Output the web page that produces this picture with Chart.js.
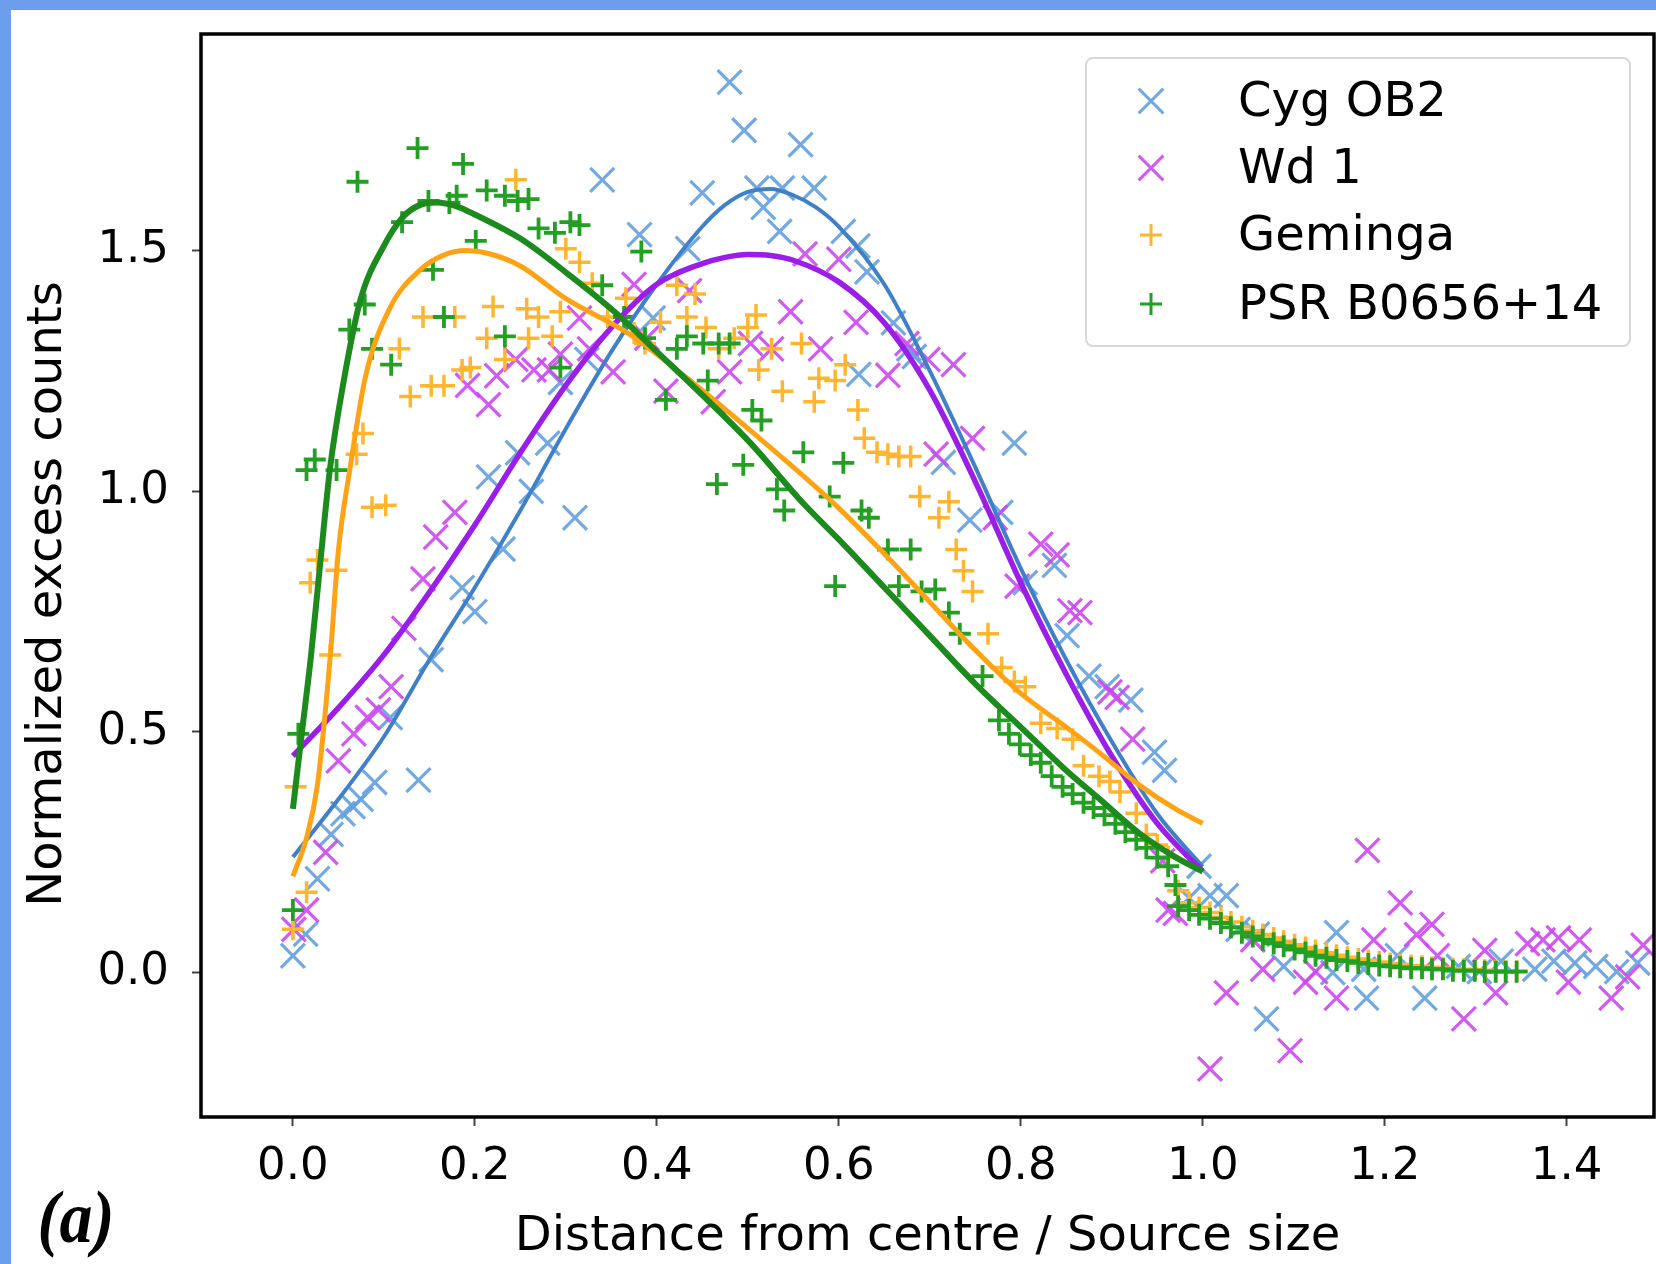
<!DOCTYPE html>
<html lang="en">
<head>
<meta charset="UTF-8">
<script src="https://cdn.jsdelivr.net/npm/chart.js@4.4.0/dist/chart.umd.min.js"></script>
<title>Normalized excess counts</title>
<style>
  html, body { margin: 0; padding: 0; background: #fff; }
  #wrap { position: relative; width: 1656px; height: 1264px; overflow: hidden; background: #fff; }
  #profileChart { position: absolute; left: 0; top: 0; }
  #frameTop { position: absolute; left: 0; top: 0; width: 1656px; height: 10px; background: #6d9eeb; }
  #frameLeft { position: absolute; left: 0; top: 0; width: 11px; height: 1264px; background: #6d9eeb; }
</style>
</head>
<body>
<div id="wrap">
  <canvas id="profileChart" width="1656" height="1264"></canvas>
  <div id="frameTop"></div>
  <div id="frameLeft"></div>
</div>
<script>
// tick labels
var xTicks = [0.0, 0.2, 0.4, 0.6, 0.8, 1.0, 1.2, 1.4];
var yTicks = [0.0, 0.5, 1.0, 1.5];

// Cyg OB2 (x markers)
var cygX = [0.000, 0.014, 0.027, 0.042, 0.055, 0.066, 0.075, 0.090, 0.107, 0.138, 0.152, 0.186, 0.200, 0.215, 0.231, 0.247, 0.262, 0.280, 0.294, 0.310,
  0.323, 0.340, 0.381, 0.396, 0.434, 0.450, 0.480, 0.496, 0.510, 0.517, 0.535, 0.538, 0.558, 0.573, 0.605, 0.621, 0.622, 0.631, 0.660, 0.677,
  0.683, 0.715, 0.744, 0.778, 0.793, 0.805, 0.837, 0.851, 0.875, 0.895, 0.921, 0.947, 0.958, 0.985, 0.996, 1.008, 1.026, 1.039, 1.060, 1.070,
  1.089, 1.143, 1.147, 1.177, 1.180, 1.214, 1.244, 1.281, 1.304, 1.328, 1.365, 1.386, 1.409, 1.432, 1.455, 1.478];
var cygY = [0.035, 0.080, 0.195, 0.287, 0.330, 0.345, 0.360, 0.395, 0.530, 0.400, 0.650, 0.800, 0.750, 1.030, 0.880, 1.080, 1.000, 1.100, 1.226, 0.945,
  1.274, 1.647, 1.533, 1.360, 1.504, 1.620, 1.850, 1.750, 1.630, 1.590, 1.540, 1.630, 1.720, 1.630, 1.540, 1.510, 1.243, 1.456, 1.350, 1.296,
  1.280, 1.060, 0.940, 0.956, 1.100, 0.810, 0.846, 0.700, 0.616, 0.594, 0.566, 0.458, 0.420, 0.155, 0.221, 0.160, 0.160, 0.090, 0.080, -0.096,
  0.013, 0.000, 0.083, 0.007, -0.053, 0.035, -0.053, 0.013, 0.002, 0.024, 0.007, 0.024, 0.020, 0.013, 0.002, 0.020];

// Wd 1 (x markers)
var wd1X = [0.001, 0.015, 0.036, 0.050, 0.067, 0.082, 0.094, 0.108, 0.122, 0.143, 0.157, 0.178, 0.192, 0.215, 0.224, 0.245, 0.265, 0.282, 0.294, 0.315,
  0.326, 0.352, 0.375, 0.389, 0.410, 0.436, 0.462, 0.480, 0.503, 0.526, 0.547, 0.563, 0.580, 0.600, 0.619, 0.654, 0.675, 0.698, 0.726, 0.707,
  0.747, 0.772, 0.796, 0.822, 0.840, 0.854, 0.865, 0.898, 0.906, 0.923, 0.956, 0.962, 0.970, 1.008, 1.026, 1.055, 1.066, 1.096, 1.113, 1.124,
  1.147, 1.181, 1.188, 1.217, 1.235, 1.252, 1.258, 1.287, 1.310, 1.322, 1.357, 1.374, 1.391, 1.414, 1.402, 1.449, 1.467, 1.484];
var wd1Y = [0.090, 0.130, 0.250, 0.440, 0.496, 0.530, 0.546, 0.594, 0.715, 0.818, 0.905, 0.956, 1.220, 1.180, 1.240, 1.274, 1.252, 1.252, 1.285, 1.360,
  1.296, 1.248, 1.430, 1.318, 1.208, 1.417, 1.186, 1.248, 1.307, 1.296, 1.373, 1.493, 1.296, 1.482, 1.351, 1.241, 1.307, 1.274, 1.263, 1.077,
  1.110, 0.945, 0.803, 0.890, 0.868, 0.752, 0.748, 0.583, 0.572, 0.485, 0.232, 0.130, 0.123, -0.200, -0.042, 0.068, 0.007, -0.162, -0.020, 0.002,
  -0.053, 0.254, 0.068, 0.145, 0.079, 0.100, 0.035, -0.096, 0.046, -0.042, 0.060, 0.068, 0.072, 0.068, -0.020, -0.053, -0.009, 0.057];

// Geminga (+ markers)
var gemX = [0.000, 0.003, 0.015, 0.019, 0.027, 0.041, 0.048, 0.070, 0.077, 0.087, 0.102, 0.117, 0.129, 0.143, 0.152, 0.166, 0.186, 0.195, 0.178, 0.213,
  0.220, 0.233, 0.245, 0.257, 0.259, 0.270, 0.285, 0.294, 0.300, 0.315, 0.329, 0.346, 0.366, 0.375, 0.387, 0.404, 0.422, 0.433, 0.442, 0.454,
  0.468, 0.485, 0.500, 0.509, 0.512, 0.526, 0.538, 0.559, 0.573, 0.578, 0.596, 0.607, 0.621, 0.628, 0.642, 0.654, 0.666, 0.679, 0.689, 0.710,
  0.721, 0.729, 0.737, 0.747, 0.764, 0.779, 0.793, 0.805, 0.822, 0.840, 0.857, 0.869, 0.886, 0.898, 0.909, 0.927, 0.938, 0.950,
  0.962, 0.973, 0.985, 0.996, 1.008, 1.020, 1.031, 1.043, 1.055, 1.066, 1.078, 1.089, 1.101, 1.113, 1.124, 1.136, 1.147, 1.159, 1.171, 1.182,
  1.194, 1.206, 1.217, 1.229, 1.241, 1.252, 1.264, 1.275, 1.287, 1.299, 1.310, 1.322, 1.333, 1.345];
var gemY = [0.090, 0.386, 0.167, 0.810, 0.857, 0.660, 0.836, 1.077, 1.120, 0.967, 0.971, 1.296, 1.197, 1.362, 1.219, 1.219, 1.252, 1.257, 1.362, 1.318,
  1.384, 1.274, 1.647, 1.379, 1.318, 1.362, 1.322, 1.373, 1.504, 1.476, 1.432, 1.362, 1.401, 1.329, 1.307, 1.351, 1.428, 1.362, 1.410, 1.340,
  1.296, 1.318, 1.340, 1.366, 1.252, 1.296, 1.208, 1.307, 1.186, 1.235, 1.230, 1.263, 1.169, 1.110, 1.081, 1.077, 1.072, 1.072, 0.989, 0.945,
  0.978, 0.879, 0.835, 0.792, 0.704, 0.634, 0.605, 0.594, 0.518, 0.507, 0.485, 0.430, 0.408, 0.397, 0.375, 0.331, 0.287, 0.265,
  0.240, 0.170, 0.145, 0.135, 0.125, 0.115, 0.105, 0.095, 0.087, 0.079, 0.072, 0.065, 0.058, 0.052, 0.046, 0.041, 0.036, 0.032, 0.028, 0.025,
  0.022, 0.019, 0.017, 0.015, 0.013, 0.011, 0.010, 0.008, 0.007, 0.006, 0.005, 0.004, 0.003, 0.003];

// PSR B0656+14 (+ markers)
var psrX = [0.000, 0.006, 0.015, 0.024, 0.048, 0.062, 0.071, 0.079, 0.087, 0.108, 0.120, 0.137, 0.149, 0.154, 0.166, 0.172, 0.180, 0.187, 0.201, 0.213,
  0.233, 0.247, 0.259, 0.233, 0.270, 0.288, 0.305, 0.315, 0.294, 0.340, 0.383, 0.364, 0.387, 0.410, 0.422, 0.433, 0.451, 0.456, 0.468, 0.480,
  0.466, 0.495, 0.505, 0.515, 0.532, 0.540, 0.561, 0.590, 0.605, 0.596, 0.625, 0.633, 0.654, 0.679, 0.666, 0.691, 0.706, 0.721, 0.733, 0.758,
  0.776, 0.787, 0.799, 0.811, 0.822, 0.834, 0.846, 0.857, 0.869, 0.880, 0.892, 0.904, 0.915, 0.927, 0.938, 0.950, 0.962, 0.970, 0.973, 0.985,
  0.996, 1.008, 1.020, 1.031, 1.043, 1.055, 1.066, 1.078, 1.089, 1.101, 1.113, 1.124, 1.136, 1.147, 1.159, 1.171, 1.182, 1.194, 1.206, 1.217,
  1.229, 1.241, 1.252, 1.264, 1.275, 1.287, 1.299, 1.310, 1.322, 1.333, 1.345];
var psrY = [0.130, 0.496, 1.044, 1.066, 1.044, 1.336, 1.643, 1.388, 1.296, 1.263, 1.559, 1.713, 1.603, 1.460, 1.362, 1.599, 1.614, 1.680, 1.520, 1.625,
  1.614, 1.603, 1.607, 1.322, 1.546, 1.537, 1.559, 1.553, 1.257, 1.428, 1.498, 1.362, 1.318, 1.190, 1.296, 1.322, 1.307, 1.230, 1.307, 1.307,
  1.015, 1.055, 1.169, 1.147, 1.004, 0.960, 1.081, 0.989, 1.059, 0.803, 0.960, 0.945, 0.879, 0.879, 0.803, 0.792, 0.796, 0.748, 0.704, 0.616,
  0.524, 0.496, 0.474, 0.452, 0.436, 0.408, 0.386, 0.371, 0.353, 0.342, 0.327, 0.309, 0.292, 0.276, 0.259, 0.239, 0.221, 0.182, 0.138, 0.130,
  0.120, 0.112, 0.103, 0.094, 0.083, 0.075, 0.068, 0.061, 0.055, 0.048, 0.042, 0.035, 0.031, 0.026, 0.024, 0.020, 0.018, 0.015, 0.013, 0.011,
  0.009, 0.009, 0.007, 0.007, 0.004, 0.004, 0.004, 0.002, 0.002, 0.002, 0.002];

// fitted curves
var cygFitX = [0, 0.05, 0.1, 0.15, 0.2, 0.25, 0.3, 0.35, 0.4, 0.45, 0.475, 0.5, 0.525, 0.55, 0.575, 0.6, 0.65, 0.7, 0.75, 0.8, 0.85, 0.9, 0.95, 1.0];
var cygFitY = [0.24, 0.36, 0.49, 0.65, 0.80, 0.96, 1.13, 1.29, 1.43, 1.55, 1.595, 1.622, 1.628, 1.615, 1.59, 1.55, 1.43, 1.25, 1.05, 0.84, 0.65, 0.48, 0.33, 0.22];
var wd1FitX = [0, 0.05, 0.1, 0.15, 0.2, 0.25, 0.3, 0.35, 0.4, 0.45, 0.475, 0.5, 0.525, 0.55, 0.6, 0.65, 0.7, 0.75, 0.8, 0.85, 0.9, 0.95, 1.0];
var wd1FitY = [0.45, 0.55, 0.66, 0.79, 0.93, 1.08, 1.22, 1.34, 1.43, 1.473, 1.486, 1.492, 1.49, 1.48, 1.435, 1.35, 1.21, 1.02, 0.81, 0.62, 0.45, 0.31, 0.21];
var gemFitX = [0, 0.015, 0.027, 0.041, 0.05, 0.063, 0.08, 0.107, 0.14, 0.165, 0.19, 0.215, 0.25, 0.3, 0.367, 0.43, 0.503, 0.591, 0.65, 0.7, 0.75, 0.8, 0.85, 0.887, 0.93, 0.97, 1.0];
var gemFitY = [0.20, 0.28, 0.39, 0.655, 0.877, 1.05, 1.24, 1.382, 1.46, 1.49, 1.50, 1.494, 1.468, 1.40, 1.33, 1.24, 1.126, 0.981, 0.87, 0.77, 0.67, 0.58, 0.51, 0.456, 0.39, 0.34, 0.31];
var psrFitX = [0, 0.01, 0.02, 0.03, 0.041, 0.055, 0.074, 0.1, 0.121, 0.14, 0.158, 0.18, 0.2, 0.25, 0.3, 0.356, 0.4, 0.45, 0.503, 0.558, 0.6, 0.65, 0.7, 0.75, 0.8, 0.85, 0.887, 0.93, 0.97, 1.0];
var psrFitY = [0.34, 0.50, 0.66, 0.85, 1.05, 1.22, 1.396, 1.51, 1.57, 1.595, 1.60, 1.592, 1.575, 1.525, 1.455, 1.369, 1.29, 1.20, 1.10, 0.981, 0.90, 0.80, 0.70, 0.60, 0.51, 0.42, 0.36, 0.29, 0.24, 0.21];

var names = ['Cyg OB2', 'Wd 1', 'Geminga', 'PSR B0656+14'];
var yTitle = 'Normalized excess counts';

function pts(xs, ys) {
  return xs.map(function (x, i) { return { x: x, y: ys[i] }; });
}

var fontFam = '"DejaVu Sans", Verdana, sans-serif';

function scatterSet(label, xs, ys, style, r, colour, width, order) {
  return {
    label: label, inLegend: true, data: pts(xs, ys), showLine: false,
    pointStyle: style, pointRadius: r, pointHoverRadius: r,
    pointBorderColor: colour, pointBackgroundColor: colour, pointBorderWidth: width,
    borderColor: colour, order: order
  };
}
function fitSet(xs, ys, colour, width, order) {
  return {
    type: 'line', label: '', inLegend: false, data: pts(xs, ys), showLine: true,
    pointRadius: 0, borderColor: colour, borderWidth: width, fill: false,
    cubicInterpolationMode: 'monotone', order: order
  };
}

function drawGlyph(ctx, style, x, y, r) {
  ctx.beginPath();
  if (style === 'crossRot') {
    var d = r * 0.7071;
    ctx.moveTo(x - d, y - d); ctx.lineTo(x + d, y + d);
    ctx.moveTo(x + d, y - d); ctx.lineTo(x - d, y + d);
  } else {
    ctx.moveTo(x - r, y); ctx.lineTo(x + r, y);
    ctx.moveTo(x, y - r); ctx.lineTo(x, y + r);
  }
  ctx.stroke();
}

// black box around the plot, and the y label (placed like matplotlib)
var frameBox = {
  id: 'frameBox',
  afterDraw: function (chart) {
    var a = chart.chartArea, ctx = chart.ctx;
    ctx.save();
    ctx.strokeStyle = '#000';
    ctx.lineWidth = 3.5;
    ctx.strokeRect(a.left, a.top, a.right - a.left, a.bottom - a.top);
    ctx.translate(49, 594);
    ctx.rotate(-Math.PI / 2);
    ctx.fillStyle = '#000';
    ctx.font = '48px ' + fontFam;
    ctx.textAlign = 'center';
    ctx.textBaseline = 'middle';
    ctx.fillText(yTitle, 0, 0);
    ctx.restore();
  }
};

// legend box at upper right
var legendBox = {
  id: 'legendBox',
  afterDraw: function (chart) {
    var ctx = chart.ctx;
    var items = chart.data.datasets.filter(function (d) { return d.inLegend; });
    var rowY = [101, 168, 235, 304];
    ctx.save();
    ctx.beginPath();
    ctx.roundRect(1086, 58, 544, 288, 7);
    ctx.fillStyle = 'rgba(255,255,255,0.85)';
    ctx.fill();
    ctx.strokeStyle = '#d8d8d8';
    ctx.lineWidth = 2;
    ctx.stroke();
    items.forEach(function (d, i) {
      ctx.strokeStyle = d.pointBorderColor;
      ctx.lineWidth = 3;
      drawGlyph(ctx, d.pointStyle, 1151, rowY[i], d.pointStyle === 'crossRot' ? 17.5 : 11);
      ctx.fillStyle = '#000';
      ctx.font = '48px ' + fontFam;
      ctx.textAlign = 'left';
      ctx.textBaseline = 'middle';
      ctx.fillText(d.label, 1238, rowY[i] + 3);
    });
    ctx.restore();
  }
};

// panel tag (a)
var panelTag = {
  id: 'panelTag',
  afterDraw: function (chart) {
    var ctx = chart.ctx;
    ctx.save();
    ctx.translate(76, 1223);
    ctx.scale(1, 1.12);
    ctx.fillStyle = '#000';
    ctx.font = 'italic bold 66px "Liberation Serif", "DejaVu Serif", serif';
    ctx.textAlign = 'center';
    ctx.textBaseline = 'middle';
    ctx.fillText('(a)', 0, 0);
    ctx.restore();
  }
};

var chart = new Chart(document.getElementById('profileChart'), {
  type: 'scatter',
  data: {
    datasets: [
      scatterSet(names[0], cygX, cygY, 'crossRot', 17, 'rgba(100,160,222,0.9)', 3.2, 7),
      scatterSet(names[1], wd1X, wd1Y, 'crossRot', 17, 'rgba(204,72,238,0.9)', 3.2, 6),
      scatterSet(names[2], gemX, gemY, 'cross', 11, '#ffb52e', 3.5, 5),
      scatterSet(names[3], psrX, psrY, 'cross', 11, '#23a023', 3.8, 4),
      fitSet(cygFitX, cygFitY, '#3f80c6', 4, 3),
      fitSet(wd1FitX, wd1FitY, '#9a1ee8', 5.5, 2),
      fitSet(gemFitX, gemFitY, '#ffa316', 5, 1),
      fitSet(psrFitX, psrFitY, '#1d8a1d', 6, 0)
    ]
  },
  options: {
    responsive: false,
    animation: false,
    devicePixelRatio: 1,
    events: [],
    layout: { autoPadding: false, padding: { left: 0, top: 34, right: 2, bottom: 0 } },
    plugins: { legend: { display: false }, tooltip: { enabled: false } },
    scales: {
      x: {
        type: 'linear', min: -0.101, max: 1.496,
        afterBuildTicks: function (axis) { axis.ticks = xTicks.map(function (v) { return { value: v }; }); },
        afterFit: function (scale) { scale.height = 147; scale.paddingLeft = 0; scale.paddingRight = 0; },
        ticks: {
          color: '#000', padding: 14, maxRotation: 0,
          font: { family: fontFam, size: 45 },
          callback: function (v) { return Number(v).toFixed(1); }
        },
        grid: { display: true, drawOnChartArea: false, drawTicks: true, tickLength: 9, tickWidth: 2, tickColor: '#444' },
        border: { display: false },
        title: {
          display: true, text: 'Distance from centre / Source size', color: '#000',
          font: { family: fontFam, size: 48, lineHeight: 1.1 }, padding: { top: 0, bottom: 0 }
        }
      },
      y: {
        type: 'linear', min: -0.30, max: 1.95,
        afterBuildTicks: function (axis) { axis.ticks = yTicks.map(function (v) { return { value: v }; }); },
        afterFit: function (scale) { scale.width = 201; scale.paddingTop = 0; scale.paddingBottom = 0; },
        ticks: {
          color: '#000', padding: 23,
          font: { family: fontFam, size: 45 },
          callback: function (v) { return Number(v).toFixed(1); }
        },
        grid: { display: true, drawOnChartArea: false, drawTicks: true, tickLength: 9, tickWidth: 2, tickColor: '#444' },
        border: { display: false },
        title: { display: false, text: yTitle }
      }
    }
  },
  plugins: [frameBox, legendBox, panelTag]
});
</script>
</body>
</html>
